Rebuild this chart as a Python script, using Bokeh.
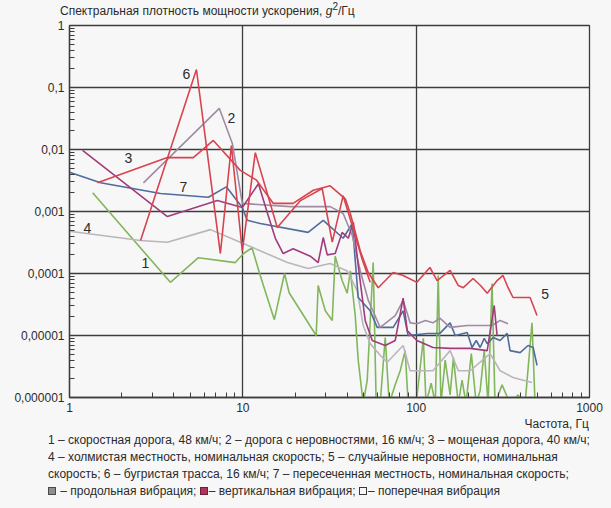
from bokeh.plotting import figure
from bokeh.models import Label, FixedTicker, CustomJSTickFormatter, Div
from bokeh.layouts import column
from bokeh.embed import file_html
from bokeh.resources import INLINE

# Frequency (Hz) and acceleration PSD (g^2/Hz) for each road profile
f1 = [1.36, 3.82, 5.54, 9.05, 10.1, 11.3, 12.6, 15.2, 17.4, 18.5, 26.5, 27.2, 29.9, 32.8, 34.1,
      37.4, 40.0, 41.7, 44.5, 46.3, 49.5, 52.2, 56.5, 58.8, 62.0, 66.3, 69.9, 75.7, 80.9, 86.4,
      89.9, 100, 105, 110, 114, 122, 129, 134, 139, 147, 157, 164, 175, 184, 194, 208, 222, 234,
      247, 260, 274, 285, 313, 348, 387, 425, 466, 485]
v1 = [2.0e-3, 7.2e-5, 1.8e-4, 1.5e-4, 2.1e-4, 2.6e-4, 9.3e-5, 1.8e-5, 1.0e-4, 4.9e-5, 1.0e-5,
      6.4e-5, 2.5e-5, 1.75e-5, 1.9e-4, 7.7e-5, 4.8e-5, 1.1e-4, 2.1e-5, 4.0e-6, 8e-7, 1.9e-6,
      1.5e-4, 8e-7, 8e-7, 9.3e-6, 8e-7, 1.6e-6, 2.7e-6, 5.7e-6, 8e-7, 8e-7, 2.7e-6, 9.0e-6, 8e-7,
      1.7e-6, 8e-7, 9.3e-5, 8e-7, 4.0e-6, 1.1e-6, 4.4e-6, 8e-7, 1.9e-6, 8e-7, 5.1e-6, 8e-7,
      1.3e-6, 5.7e-6, 8e-7, 6.9e-5, 8e-7, 1.6e-6, 8e-7, 1.1e-6, 8e-7, 1.6e-5, 8e-7]

f2 = [2.67, 7.32, 8.70, 9.93, 18.8, 31.9, 37.9, 42.8, 47.6, 52.9, 62.0, 75.7, 84.1, 92.3, 101,
      113, 125, 137, 157, 197, 274, 305, 339]
v2 = [2.9e-3, 0.046, 0.0125, 1.35e-3, 1.2e-3, 1.2e-3, 9.3e-4, 4.1e-4, 1.1e-4, 3.7e-5, 1.35e-5,
      2.1e-5, 3.7e-5, 1.6e-5, 1.55e-5, 1.75e-5, 1.6e-5, 1.9e-5, 1.35e-5, 1.45e-5, 1.45e-5,
      1.75e-5, 1.55e-5]

f3 = [1.45, 3.67, 5.18, 6.76, 9.67, 12.0, 15.0, 19.5, 25.5, 31.9, 39.0, 41.7, 47.6]
v3 = [2.9e-3, 7.4e-3, 7.4e-3, 0.014, 4.6e-3, 3.2e-3, 1.35e-3, 1.35e-3, 2.2e-3, 2.6e-3, 1.6e-3,
      9.3e-4, 2.3e-4]

f3v = [1.19, 3.67, 7.13, 9.93, 12.3, 14.0, 15.4, 17.1, 19.5, 24.5, 27.2, 29.1, 30.7, 34.1, 37.4,
       40.6, 43.4, 46.3, 50.8, 55.8, 66.3, 75.7, 84.1, 88.8, 101, 125, 157, 205, 257, 282, 293]
v3v = [9.7e-3, 8.3e-4, 1.5e-3, 1.16e-3, 2.8e-3, 8.6e-4, 3.7e-4, 2.1e-4, 2.5e-4, 1.9e-4, 1.5e-4,
       3.8e-4, 2.0e-4, 2.1e-4, 4.6e-4, 3.7e-4, 6.7e-4, 1.35e-4, 1.75e-5, 8.3e-6, 6.9e-6, 8.3e-6,
       4.0e-5, 1.2e-5, 8.3e-6, 6.4e-6, 6.2e-6, 6.2e-6, 5.7e-6, 3.05e-5, 1.0e-5]

f4 = [1.0, 2.57, 3.67, 6.50, 9.67, 18.1, 23.8, 31.9, 40.0, 45.7, 49.5, 54.3, 62.0, 68.1, 84.1,
      92.3, 125, 157, 175, 205, 267, 305, 362, 466]
v4 = [4.8e-4, 3.4e-4, 3.2e-4, 5.1e-4, 3.2e-4, 1.5e-4, 1.2e-4, 1.45e-4, 1.1e-4, 5.3e-5, 1.45e-5,
      7.4e-6, 4.8e-6, 3.7e-6, 6.9e-6, 2.7e-6, 2.7e-6, 5.7e-6, 2.7e-6, 2.7e-6, 5.1e-6, 2.7e-6,
      2.1e-6, 1.75e-6]

f5 = [47.6, 52.9, 60.4, 73.7, 84.1, 101, 120, 132, 157, 175, 187, 213, 235, 257, 293, 317, 339,
      362, 400, 454, 498]
v5 = [2.3e-4, 1.04e-4, 5.9e-5, 1.04e-4, 9.3e-5, 7.2e-5, 1.25e-4, 7.7e-5, 1.12e-4, 6.4e-5, 5.9e-5,
      8.3e-5, 6.4e-5, 4.8e-5, 7.7e-5, 9.3e-5, 5.9e-5, 4.1e-5, 4.1e-5, 4.1e-5, 2.1e-5]

f6 = [2.57, 5.40, 7.42, 8.59, 9.93, 11.8, 15.8, 21.5, 28.7, 32.8, 37.9, 42.8, 48.8, 54.3]
v6 = [3.4e-4, 0.195, 2.1e-4, 0.0116, 2.3e-4, 8.9e-3, 5.5e-4, 1.5e-3, 2.35e-3, 3.2e-4, 1.8e-3,
      5.9e-4, 1.7e-4, 7.2e-5]

f7 = [1.0, 1.51, 3.35, 6.33, 8.03, 9.93, 10.6, 12.6, 23.8, 29.1, 37.9, 42.8, 46.3, 54.3, 59.6,
      73.7, 84.1, 89.9, 116, 137, 157, 168, 197, 210, 222, 234, 247, 257, 278, 305, 335, 348,
      398, 442, 473, 498]
v7 = [4.3e-3, 2.9e-3, 1.95e-3, 1.7e-3, 2.5e-3, 1.16e-3, 7.2e-4, 6.4e-4, 4.6e-4, 7.2e-4, 3.7e-4,
      6.4e-4, 4.1e-5, 2.5e-5, 1.35e-5, 1.35e-5, 2.5e-5, 1.0e-5, 1.08e-5, 1.08e-5, 1.6e-5, 1.0e-5,
      1.12e-5, 6.4e-6, 8.3e-6, 6.4e-6, 9.0e-6, 7.4e-6, 9.3e-6, 8.3e-6, 1.08e-5, 5.7e-6, 5.3e-6,
      6.9e-6, 6.4e-6, 3.3e-6]

x_ticks = [1, 10, 100, 1000]
y_ticks = [1e-6, 1e-5, 1e-4, 1e-3, 1e-2, 1e-1, 1]

title_html = "Спектральная плотность мощности ускорения, <i>g</i><sup>2</sup>/Гц"
x_title = "Частота, Гц"
legend_rows = [
    "1 – скоростная дорога, 48 км/ч; 2 – дорога с неровностями, 16 км/ч; 3 – мощеная дорога, 40 км/ч;",
    "4 – холмистая местность, номинальная скорость; 5 – случайные неровности, номинальная",
    "скорость; 6 – бугристая трасса, 16 км/ч; 7 – пересеченная местность, номинальная скорость;",
]
vib_items = [("#8e8e92", "#4a4a4a", " – продольная вибрация; "),
             ("#b0345e", "#6e1f3a", "– вертикальная вибрация; "),
             ("#f7f7f7", "#3a3a3a", "– поперечная вибрация")]

FONT = "Liberation Sans"
BG = "#f7f7f7"
INK = "#2b2b2b"
GRID = "#3c3c3c"

W = 611
TOP_H = 17          # title strip
PLOT_H = 401        # figure canvas
BOT_H = 508 - TOP_H - PLOT_H

p = figure(width=W, height=PLOT_H, x_axis_type="log", y_axis_type="log",
           x_range=(1, 1000), y_range=(1e-6, 1),
           output_backend="svg", toolbar_location=None,
           min_border_left=69, min_border_right=22,
           min_border_top=8, min_border_bottom=21,
           background_fill_color=BG, border_fill_color=BG, margin=0)

minor_x = [m * d for d in (1, 10, 100) for m in range(2, 10)]
minor_y = [m * d for d in (1e-6, 1e-5, 1e-4, 1e-3, 1e-2, 1e-1) for m in range(2, 10)]
p.xaxis.ticker = FixedTicker(ticks=x_ticks, minor_ticks=minor_x)
p.yaxis.ticker = FixedTicker(ticks=y_ticks, minor_ticks=minor_y)

fmt_code = """
const e = Math.round(Math.log10(tick));
if (e >= 0) return String(Math.round(tick));
return "0," + "0".repeat(-e - 1) + "1";
"""
p.xaxis.formatter = CustomJSTickFormatter(code=fmt_code)
p.yaxis.formatter = CustomJSTickFormatter(code=fmt_code)

for ax in (p.xaxis, p.yaxis):
    ax.axis_line_color = GRID
    ax.axis_line_width = 1.3
    ax.major_tick_line_color = GRID
    ax.minor_tick_line_color = GRID
    ax.major_tick_in = 6
    ax.major_tick_out = 0
    ax.minor_tick_in = 5
    ax.minor_tick_out = 0
    ax.major_label_text_font = FONT
    ax.major_label_text_font_size = "12px"
    ax.major_label_text_color = INK
p.xaxis.major_label_standoff = 5
p.yaxis.major_label_standoff = 5

p.xgrid.grid_line_color = GRID
p.ygrid.grid_line_color = GRID
p.xgrid.grid_line_width = 1.3
p.ygrid.grid_line_width = 1.3
p.outline_line_color = GRID
p.outline_line_width = 1.3

series = [
    (f1, v1, "#82b65c"),
    (f4, v4, "#bab5be"),
    (f7, v7, "#4f6c9c"),
    (f2, v2, "#a08aa4"),
    (f3v, v3v, "#a03c7c"),
    (f3, v3, "#d8434f"),
    (f5, v5, "#d8434f"),
    (f6, v6, "#d8434f"),
]
for fx, vy, col in series:
    p.line(fx, vy, line_color=col, line_width=1.6)

# curve numbers
curve_tags = [("6", 4.73, 0.168), ("2", 8.59, 0.0328), ("3", 2.19, 0.00716),
              ("7", 4.54, 0.00244), ("4", 1.27, 0.00055), ("1", 2.74, 0.00015),
              ("5", 554, 4.75e-5)]
for t, fx, vy in curve_tags:
    p.add_layout(Label(x=fx, y=vy, text=t, text_font=FONT, text_font_size="14px",
                       text_color=INK, text_align="center", text_baseline="middle"))

base_css = (f"position:relative;width:{W}px;background:{BG};font-family:'{FONT}',sans-serif;"
            f"color:{INK};overflow:visible;")

title_div = Div(
    text=(f"<div style=\"{base_css}height:{TOP_H}px;\">"
          f"<span style=\"position:absolute;left:60px;top:0px;font-size:12px;line-height:14px;"
          f"white-space:nowrap;\">{title_html}</span></div>"),
    width=W, height=TOP_H, margin=0, styles={"background-color": BG})

spans = [f"<span style=\"position:absolute;right:{W - 589}px;top:0px;font-size:12px;"
         f"line-height:12px;white-space:nowrap;\">{x_title}</span>"]
for i, row in enumerate(legend_rows):
    spans.append(f"<span style=\"position:absolute;left:48px;top:{15 + 17 * i}px;font-size:12px;"
                 f"line-height:14px;white-space:nowrap;\">{row}</span>")
parts = []
for fill, edge, txt in vib_items:
    parts.append(f"<span style=\"display:inline-block;width:8px;height:8px;background:{fill};"
                 f"border:1px solid {edge};margin-right:1px;\"></span>{txt}")
spans.append(f"<span style=\"position:absolute;left:48px;top:66px;font-size:12px;"
             f"line-height:14px;white-space:nowrap;\">{''.join(parts)}</span>")

legend_div = Div(text=f"<div style=\"{base_css}height:{BOT_H}px;\">{''.join(spans)}</div>",
                 width=W, height=BOT_H, margin=0, styles={"background-color": BG})

layout = column(title_div, p, legend_div, spacing=0, margin=0,
                styles={"background-color": BG})

open("out.html", "w").write(file_html(layout, INLINE))
